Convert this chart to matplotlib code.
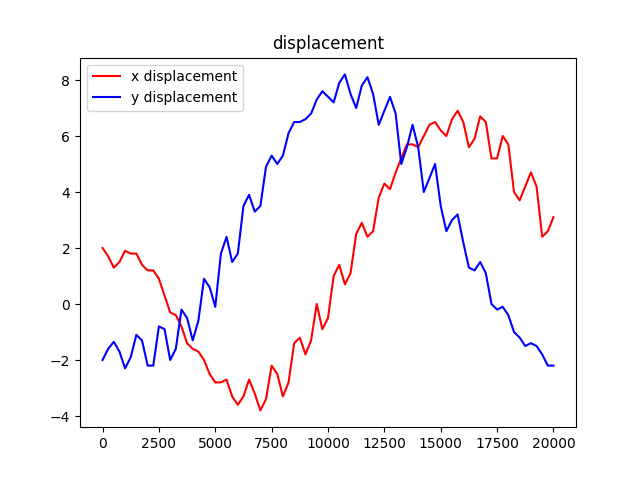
import matplotlib
matplotlib.use("Agg")
import matplotlib.pyplot as plt

t = list(range(0, 20001, 250))

x_disp = [2.0, 1.7, 1.3, 1.5, 1.9, 1.8, 1.8, 1.4, 1.2, 1.2, 0.9, 0.3, -0.3, -0.4, -0.8, -1.4,
          -1.6, -1.7, -2.0, -2.5, -2.8, -2.8, -2.7, -3.3, -3.6, -3.3, -2.7, -3.2, -3.8, -3.4,
          -2.2, -2.5, -3.3, -2.8, -1.4, -1.2, -1.8, -1.3, 0.0, -0.9, -0.5, 1.0, 1.4, 0.7, 1.1,
          2.5, 2.9, 2.4, 2.6, 3.8, 4.3, 4.1, 4.7, 5.2, 5.7, 5.7, 5.6, 6.0, 6.4, 6.5, 6.2, 6.0,
          6.6, 6.9, 6.5, 5.6, 5.9, 6.7, 6.5, 5.2, 5.2, 6.0, 5.7, 4.0, 3.7, 4.2, 4.7, 4.2, 2.4,
          2.6, 3.1]

y_disp = [-2.0, -1.6, -1.35, -1.7, -2.3, -1.9, -1.1, -1.3, -2.2, -2.2, -0.8, -0.9, -2.0, -1.6,
          -0.2, -0.5, -1.3, -0.6, 0.9, 0.6, -0.1, 1.8, 2.4, 1.5, 1.8, 3.5, 3.9, 3.3, 3.5, 4.9,
          5.3, 5.0, 5.3, 6.1, 6.5, 6.5, 6.6, 6.8, 7.3, 7.6, 7.4, 7.2, 7.9, 8.2, 7.5, 7.0, 7.8,
          8.1, 7.5, 6.4, 6.9, 7.4, 6.8, 5.0, 5.6, 6.4, 5.6, 4.0, 4.5, 5.0, 3.5, 2.6, 3.0, 3.2,
          2.2, 1.3, 1.2, 1.5, 1.1, 0.0, -0.2, -0.1, -0.4, -1.0, -1.2, -1.5, -1.4, -1.5, -1.8,
          -2.2, -2.2]

fig, ax = plt.subplots(figsize=(6.4, 4.8), dpi=100)
ax.plot(t, x_disp, color="red", label="x displacement")
ax.plot(t, y_disp, color="blue", label="y displacement")
ax.set_title("displacement")
ax.legend(loc="upper left")
fig.savefig("out.png")
